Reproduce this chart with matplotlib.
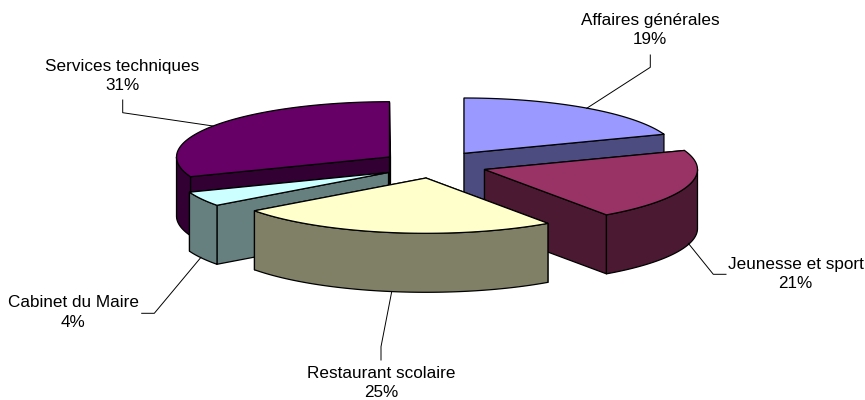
import numpy as np
import matplotlib
matplotlib.use("Agg")
import matplotlib.pyplot as plt
from matplotlib.patches import Polygon

plt.rcParams['font.family'] = ['Liberation Sans', 'DejaVu Sans']

# data, clockwise from 12 o'clock
names = ['Affaires générales', 'Jeunesse et sport', 'Restaurant scolaire', 'Cabinet du Maire', 'Services techniques']
values = [19.4, 20.9, 24.6, 4.3, 30.8]

top_colors = ['#9999FF', '#993366', '#FFFFCC', '#CCFFFF', '#660066']
side_colors = ['#4C4C80', '#4C1933', '#808066', '#668080', '#330033']

# exploded slice tips, in pixels
tip_x = [464, 484.5, 426, 388.5, 389.5]
tip_y = [153.3, 169.5, 178, 172.5, 157]
rx, ry, depth = 213, 55.3, 59

# back to front
draw_order = [0, 4, 3, 1, 2]

label_x = [650, 795.5, 381, 73, 122.5]
label_y = [30, 274, 383, 312.5, 76]
leaders = [
    [(650.3, 55), (650.3, 67.3), (586.7, 108.3)],
    [(726, 274.3), (713.3, 274.3), (688.3, 243.3)],
    [(381, 360), (381, 346.7), (391.7, 291.7)],
    [(141.7, 313.3), (154.3, 313.3), (201, 257.3)],
    [(122.7, 100), (122.7, 112.7), (213, 126)],
]

fig = plt.figure(figsize=(8.65, 4), dpi=100)
ax = fig.add_axes([0, 0, 1, 1])
ax.set_xlim(0, 865)
ax.set_ylim(400, 0)
ax.axis('off')

edges = np.cumsum([0] + values) / sum(values) * 360


def arc(cx, cy, a, b, dy=0):
    t = np.radians(np.linspace(a, b, 80))
    return np.column_stack([cx + rx * np.sin(t), cy + dy - ry * np.cos(t)])


def face(pts, color, z):
    ax.add_patch(Polygon(pts, closed=True, facecolor=color, edgecolor='black', lw=0.9, joinstyle='round', zorder=z))


for z, i in enumerate(draw_order):
    a, b = edges[i], edges[i + 1]
    cx, cy = tip_x[i], tip_y[i]
    base = z * 10 + 1
    # the two cut faces, the one further back first
    ends = [arc(cx, cy, ang, ang)[0] for ang in (a, b)]
    ends.sort(key=lambda p: p[1])
    for k, p in enumerate(ends):
        pts = [(cx, cy), tuple(p), (p[0], p[1] + depth), (cx, cy + depth)]
        face(pts, side_colors[i], base + k)
    # outer wall, only the part facing the viewer
    lo, hi = max(a, 90), min(b, 270)
    if lo < hi:
        upper = arc(cx, cy, lo, hi)
        lower = arc(cx, cy, lo, hi, depth)
        face(np.vstack([upper, lower[::-1]]), side_colors[i], base + 2)
    # top
    face(np.vstack([[(cx, cy)], arc(cx, cy, a, b)]), top_colors[i], base + 3)

for i, name in enumerate(names):
    xs, ys = zip(*leaders[i])
    ax.plot(xs, ys, color='black', lw=0.7, zorder=100)
    ax.text(label_x[i], label_y[i], f"{name}\n{values[i]:.0f}%", ha='center', va='center',
            ma='center', fontsize=12.3, linespacing=1.35, color='black', zorder=101)

fig.savefig("out.png", dpi=100)
